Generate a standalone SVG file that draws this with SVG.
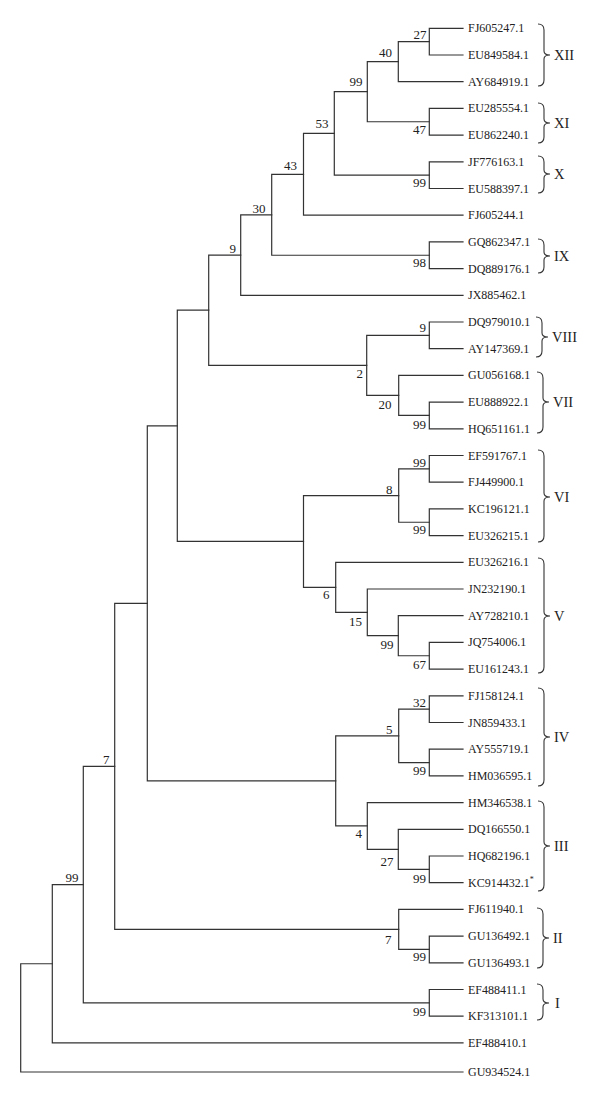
<svg xmlns="http://www.w3.org/2000/svg" width="600" height="1100" viewBox="0 0 600 1100">
<style>
.e{fill:none;stroke:#333;stroke-width:1.2;stroke-linecap:square}
.b{fill:none;stroke:#333;stroke-width:1.1}
.lf{font-family:"Liberation Serif",serif;font-size:12px;fill:#222}
.bs{font-family:"Liberation Serif",serif;font-size:13px;fill:#222;text-anchor:end}
.cl{font-family:"Liberation Serif",serif;font-size:14.5px;fill:#222}
</style>
<rect width="600" height="1100" fill="#fff"/>
<g id="connectors">
<path class="e" d="M463 28.3H429.3V55H463"/>
<path class="e" d="M429.3 41.65H398.3V81.7H463"/>
<path class="e" d="M463 108.4H429.3V135.1H463"/>
<path class="e" d="M398.3 61.7H367.3V121.75H429.3"/>
<path class="e" d="M463 161.8H429.3V188.5H463"/>
<path class="e" d="M367.3 91.7H334.3V175.15H429.3"/>
<path class="e" d="M334.3 133.4H303.5V215.2H463"/>
<path class="e" d="M463 241.9H429.3V268.6H463"/>
<path class="e" d="M303.5 174.3H271.7V255.25H429.3"/>
<path class="e" d="M271.7 214.8H240.7V295.3H463"/>
<path class="e" d="M463 322H429.3V348.7H463"/>
<path class="e" d="M463 402.1H429.3V428.8H463"/>
<path class="e" d="M463 375.4H398.7V415.45H429.3"/>
<path class="e" d="M429.3 335.35H366.7V395.4H398.7"/>
<path class="e" d="M240.7 255.05H208.7V365.4H366.7"/>
<path class="e" d="M463 455.5H429.3V482.2H463"/>
<path class="e" d="M463 508.9H429.3V535.6H463"/>
<path class="e" d="M429.3 468.85H398.7V522.25H429.3"/>
<path class="e" d="M463 642.4H429.3V669.1H463"/>
<path class="e" d="M463 615.7H398.3V655.75H429.3"/>
<path class="e" d="M463 589H367.3V635.7H398.3"/>
<path class="e" d="M463 562.3H335.7V612.35H367.3"/>
<path class="e" d="M398.7 495.55H303.5V587.3H335.7"/>
<path class="e" d="M208.7 310.2H177.3V541.4H303.5"/>
<path class="e" d="M463 695.8H429.3V722.5H463"/>
<path class="e" d="M463 749.2H429.3V775.9H463"/>
<path class="e" d="M429.3 709.15H398.7V762.55H429.3"/>
<path class="e" d="M463 856H429.3V882.7H463"/>
<path class="e" d="M463 829.3H398.3V869.35H429.3"/>
<path class="e" d="M463 802.6H367.3V849.3H398.3"/>
<path class="e" d="M398.7 735.85H335.7V825.95H367.3"/>
<path class="e" d="M177.3 425.8H147.3V780.9H335.7"/>
<path class="e" d="M463 936.1H429.3V962.8H463"/>
<path class="e" d="M463 909.4H398.7V949.45H429.3"/>
<path class="e" d="M147.3 603.35H114.7V929.4H398.7"/>
<path class="e" d="M463 989.5H429.3V1016.2H463"/>
<path class="e" d="M114.7 766.4H83.3V1002.85H429.3"/>
<path class="e" d="M83.3 884.6H52.3V1042.9H463"/>
<path class="e" d="M52.3 963.75H20.7V1072H463"/>
</g>
<g id="leaves" class="lf">
<g id="leaf-FJ605247"><text x="468" y="32.3">FJ605247.1</text></g>
<g id="leaf-EU849584"><text x="468" y="59">EU849584.1</text></g>
<g id="leaf-AY684919"><text x="468" y="85.7">AY684919.1</text></g>
<g id="leaf-EU285554"><text x="468" y="112.4">EU285554.1</text></g>
<g id="leaf-EU862240"><text x="468" y="139.1">EU862240.1</text></g>
<g id="leaf-JF776163"><text x="468" y="165.8">JF776163.1</text></g>
<g id="leaf-EU588397"><text x="468" y="192.5">EU588397.1</text></g>
<g id="leaf-FJ605244"><text x="468" y="219.2">FJ605244.1</text></g>
<g id="leaf-GQ862347"><text x="468" y="245.9">GQ862347.1</text></g>
<g id="leaf-DQ889176"><text x="468" y="272.6">DQ889176.1</text></g>
<g id="leaf-JX885462"><text x="468" y="299.3">JX885462.1</text></g>
<g id="leaf-DQ979010"><text x="468" y="326">DQ979010.1</text></g>
<g id="leaf-AY147369"><text x="468" y="352.7">AY147369.1</text></g>
<g id="leaf-GU056168"><text x="468" y="379.4">GU056168.1</text></g>
<g id="leaf-EU888922"><text x="468" y="406.1">EU888922.1</text></g>
<g id="leaf-HQ651161"><text x="468" y="432.8">HQ651161.1</text></g>
<g id="leaf-EF591767"><text x="468" y="459.5">EF591767.1</text></g>
<g id="leaf-FJ449900"><text x="468" y="486.2">FJ449900.1</text></g>
<g id="leaf-KC196121"><text x="468" y="512.9">KC196121.1</text></g>
<g id="leaf-EU326215"><text x="468" y="539.6">EU326215.1</text></g>
<g id="leaf-EU326216"><text x="468" y="566.3">EU326216.1</text></g>
<g id="leaf-JN232190"><text x="468" y="593">JN232190.1</text></g>
<g id="leaf-AY728210"><text x="468" y="619.7">AY728210.1</text></g>
<g id="leaf-JQ754006"><text x="468" y="646.4">JQ754006.1</text></g>
<g id="leaf-EU161243"><text x="468" y="673.1">EU161243.1</text></g>
<g id="leaf-FJ158124"><text x="468" y="699.8">FJ158124.1</text></g>
<g id="leaf-JN859433"><text x="468" y="726.5">JN859433.1</text></g>
<g id="leaf-AY555719"><text x="468" y="753.2">AY555719.1</text></g>
<g id="leaf-HM036595"><text x="468" y="779.9">HM036595.1</text></g>
<g id="leaf-HM346538"><text x="468" y="806.6">HM346538.1</text></g>
<g id="leaf-DQ166550"><text x="468" y="833.3">DQ166550.1</text></g>
<g id="leaf-HQ682196"><text x="468" y="860">HQ682196.1</text></g>
<g id="leaf-KC914432"><text x="468" y="886.7">KC914432.1<tspan font-size="8" dy="-5">*</tspan></text></g>
<g id="leaf-FJ611940"><text x="468" y="913.4">FJ611940.1</text></g>
<g id="leaf-GU136492"><text x="468" y="940.1">GU136492.1</text></g>
<g id="leaf-GU136493"><text x="468" y="966.8">GU136493.1</text></g>
<g id="leaf-EF488411"><text x="468" y="993.5">EF488411.1</text></g>
<g id="leaf-KF313101"><text x="468" y="1020.2">KF313101.1</text></g>
<g id="leaf-EF488410"><text x="468" y="1046.9">EF488410.1</text></g>
<g id="leaf-GU934524"><text x="468" y="1076">GU934524.1</text></g>
</g>
<g id="support" class="bs">
<g id="n27a"><text x="426.5" y="39">27</text></g>
<g id="n40"><text x="392" y="57">40</text></g>
<g id="n99a"><text x="362.5" y="86">99</text></g>
<g id="n47"><text x="426" y="134">47</text></g>
<g id="n53"><text x="328.5" y="128">53</text></g>
<g id="n99x"><text x="426" y="187">99</text></g>
<g id="n43"><text x="297" y="170">43</text></g>
<g id="n98"><text x="426" y="267">98</text></g>
<g id="n30"><text x="265.5" y="212.5">30</text></g>
<g id="n9a"><text x="236" y="252.5">9</text></g>
<g id="n9b"><text x="426" y="332">9</text></g>
<g id="n2"><text x="363" y="377.5">2</text></g>
<g id="n20"><text x="391.5" y="408.5">20</text></g>
<g id="n99vii"><text x="426" y="428.5">99</text></g>
<g id="n99via"><text x="426" y="467">99</text></g>
<g id="n8"><text x="392.5" y="494">8</text></g>
<g id="n99vib"><text x="426" y="534">99</text></g>
<g id="n6"><text x="329.5" y="599">6</text></g>
<g id="n15"><text x="362" y="626">15</text></g>
<g id="n99v"><text x="393.5" y="648.5">99</text></g>
<g id="n67"><text x="426" y="669">67</text></g>
<g id="n32"><text x="426" y="707">32</text></g>
<g id="n5"><text x="392.5" y="734">5</text></g>
<g id="n99iv"><text x="426" y="775">99</text></g>
<g id="n4"><text x="362" y="838">4</text></g>
<g id="n27b"><text x="393.5" y="866">27</text></g>
<g id="n99iii"><text x="426" y="883">99</text></g>
<g id="n7a"><text x="109.5" y="764">7</text></g>
<g id="n99root"><text x="78.5" y="881.5">99</text></g>
<g id="n7b"><text x="391.5" y="944">7</text></g>
<g id="n99ii"><text x="426" y="961">99</text></g>
<g id="n99i"><text x="426" y="1016">99</text></g>
</g>
<g id="clades">
<g id="clade-XII"><path class="b" d="M538 24Q544 24 544 30V51Q544 55 550 55Q544 55 544 59V80Q544 86 538 86"/><text class="cl" x="554" y="60">XII</text></g>
<g id="clade-XI"><path class="b" d="M538 103Q544 103 544 109V119Q544 123 550 123Q544 123 544 127V137Q544 143 538 143"/><text class="cl" x="554" y="128">XI</text></g>
<g id="clade-X"><path class="b" d="M538 156Q544 156 544 162V170Q544 174 550 174Q544 174 544 178V187Q544 193 538 193"/><text class="cl" x="554" y="179">X</text></g>
<g id="clade-IX"><path class="b" d="M538 239Q544 239 544 245V252Q544 256 550 256Q544 256 544 260V267Q544 273 538 273"/><text class="cl" x="554" y="261">IX</text></g>
<g id="clade-VIII"><path class="b" d="M536 317Q542 317 542 323V333Q542 337 548 337Q542 337 542 341V351Q542 357 536 357"/><text class="cl" x="552" y="342">VIII</text></g>
<g id="clade-VII"><path class="b" d="M537 372Q543 372 543 378V398Q543 402 549 402Q543 402 543 406V427Q543 433 537 433"/><text class="cl" x="553" y="407">VII</text></g>
<g id="clade-VI"><path class="b" d="M538 450Q544 450 544 456V493Q544 497 550 497Q544 497 544 501V536Q544 542 538 542"/><text class="cl" x="554" y="502">VI</text></g>
<g id="clade-V"><path class="b" d="M538 558Q544 558 544 564V612Q544 616 550 616Q544 616 544 620V667Q544 673 538 673"/><text class="cl" x="554" y="621">V</text></g>
<g id="clade-IV"><path class="b" d="M538 688Q544 688 544 694V733Q544 737 550 737Q544 737 544 741V780Q544 786 538 786"/><text class="cl" x="554" y="742">IV</text></g>
<g id="clade-III"><path class="b" d="M538 801Q544 801 544 807V842Q544 846 550 846Q544 846 544 850V885Q544 891 538 891"/><text class="cl" x="554" y="851">III</text></g>
<g id="clade-II"><path class="b" d="M537 908Q543 908 543 914V934Q543 938 549 938Q543 938 543 942V962Q543 968 537 968"/><text class="cl" x="553" y="943">II</text></g>
<g id="clade-I"><path class="b" d="M537 984Q543 984 543 990V999Q543 1003 549 1003Q543 1003 543 1007V1014Q543 1020 537 1020"/><text class="cl" x="555" y="1008">I</text></g>
</g>
</svg>
